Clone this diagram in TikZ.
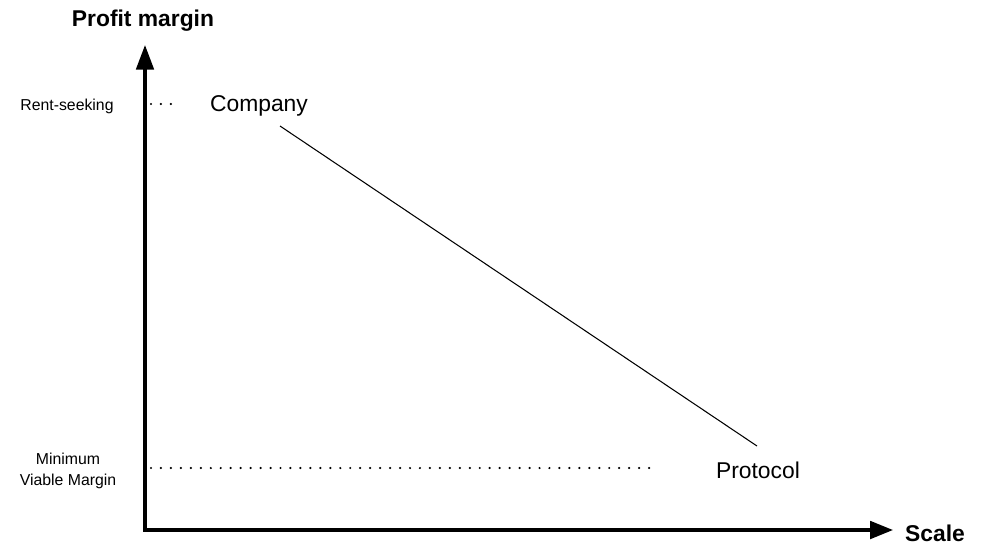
\documentclass[tikz,border=0pt]{standalone}
\usepackage{fontspec}
\setmainfont{Liberation Sans}
\usetikzlibrary{arrows.meta}

\begin{document}
\begin{tikzpicture}[x=0.02cm, y=-0.02cm,
  axis/.style={line width=1.8pt, line join=miter, {Triangle[length=14pt,width=10pt]}-{Triangle[length=13pt,width=10pt]}},
  axislabel/.style={font=\fontsize{13}{15}\selectfont\bfseries},
  level/.style={font=\fontsize{9}{11.5}\selectfont, align=center},
  point/.style={font=\fontsize{13}{15}\selectfont},
  guide/.style={line width=1.4pt, line cap=round, dash pattern=on 0pt off 5.67pt}]
\useasboundingbox (0,0) rectangle (995,559);

% axes
\coordinate (ytop) at (145,45);
\coordinate (origin) at (145,530);
\coordinate (xend) at (893,530);
\draw[axis] (ytop) -- (origin) -- (xend);
\node[axislabel] (ylabel) at (143,21) {Profit margin};
\node[axislabel] (xlabel) at (935,533) {Scale};

% levels on the margin axis
\node[level] (rent) at (67,106) {Rent-seeking};
\node[level] (mvm) at (68,471) {Minimum\\Viable Margin};
\coordinate (rentA) at (151,104);
\coordinate (rentB) at (172,104);
\draw[guide] (rentA) -- (rentB);
\coordinate (mvmA) at (151,468);
\coordinate (mvmB) at (650,468);
\draw[guide] (mvmA) -- (mvmB);

% the two ends
\node[point] (company) at (259,106) {Company};
\node[point] (protocol) at (758,470) {Protocol};
\coordinate (companyEnd) at (280,126);
\coordinate (protocolEnd) at (757,446);
\draw[line width=0.6pt] (companyEnd) -- (protocolEnd);
\end{tikzpicture}
\end{document}
